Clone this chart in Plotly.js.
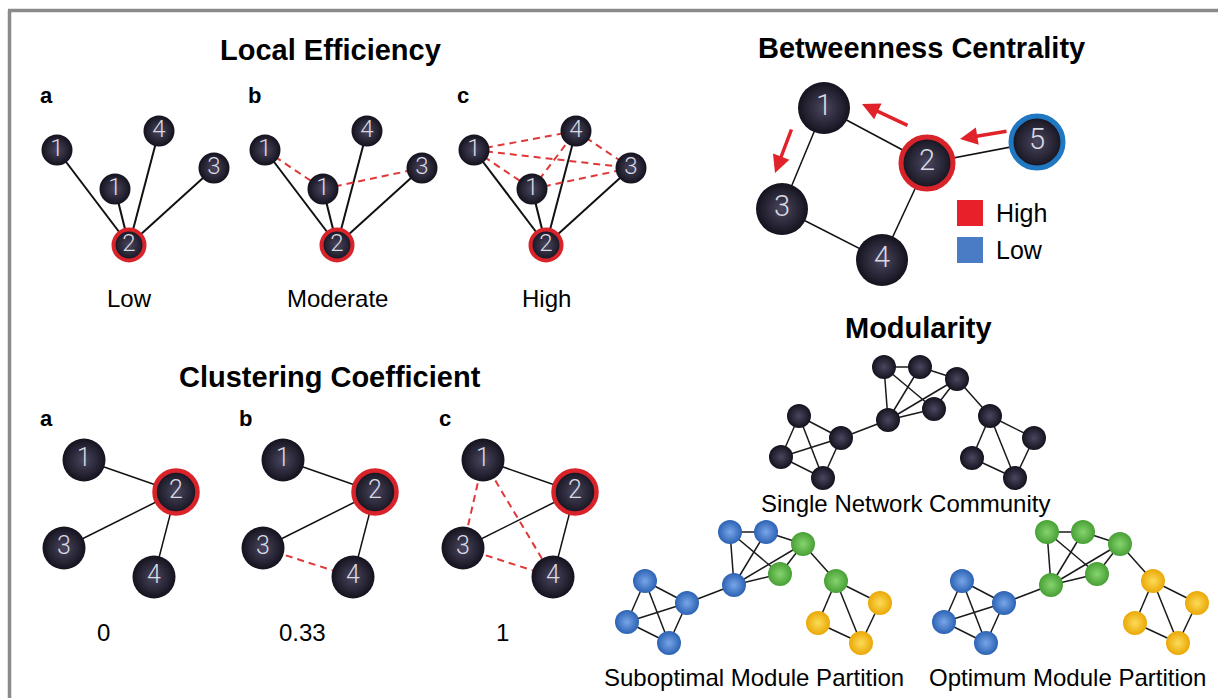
<!DOCTYPE html>
<html>
<head>
<meta charset="utf-8">
<script src="https://cdn.plot.ly/plotly-3.0.1.min.js"></script>
<style>
  html, body { margin: 0; padding: 0; background: #ffffff; }
  #chart { width: 1218px; height: 698px; }
</style>
</head>
<body>
<div id="chart"></div>
<script>
// ---------- Local Efficiency (three panels, same node layout shifted right) ----------
const leLabels   = ['1', '1', '4', '3', '2'];
const leX        = [57, 115, 159, 214, 129];
const leY        = [150, 189, 131, 168, 245];
const leHub      = 4;
const leShift    = [0, 208, 417];
const leSolid    = [[0, 4], [1, 4], [2, 4], [3, 4]];
const leDashed   = [
  [],
  [[0, 1], [1, 3]],
  [[0, 1], [0, 2], [0, 3], [1, 2], [1, 3], [2, 3]]
];
const leTags     = ['a', 'b', 'c'];
const leCaptions = ['Low', 'Moderate', 'High'];

// ---------- Clustering Coefficient ----------
const ccLabels   = ['1', '2', '3', '4'];
const ccX        = [84, 176, 64, 154];
const ccY        = [460, 492, 548, 577];
const ccHub      = 1;
const ccShift    = [0, 199, 399];
const ccSolid    = [[0, 1], [2, 1], [3, 1]];
const ccDashed   = [
  [],
  [[2, 3]],
  [[0, 2], [0, 3], [2, 3]]
];
const ccTags     = ['a', 'b', 'c'];
const ccCaptions = ['0', '0.33', '1'];

// ---------- Betweenness Centrality ----------
const bcLabels = ['1', '2', '3', '4', '5'];
const bcX      = [824, 927, 782, 882, 1037];
const bcY      = [108, 163, 209, 260, 142];
const bcRing   = ['none', 'high', 'none', 'none', 'low'];
const bcEdges  = [[0, 1], [0, 2], [2, 3], [3, 1], [1, 4]];
// shortest-path flow arrows: [tailX, tailY, headX, headY]
const bcArrows = [
  [909, 126, 862, 104],
  [1008, 131, 960, 139],
  [792, 128, 775, 173]
];
const bcLegend = ['High', 'Low'];

// ---------- Modularity (one 13-node network drawn three times) ----------
const modDx    = [0, 36, 73, 50, 4, -85, -43, -103, -61, 106, 150, 88, 131];
const modDy    = [0, 0, 12, 42, 53, 49, 71, 90, 111, 49, 71, 91, 111];
const modEdges = [
  [0, 1], [1, 2], [0, 4], [0, 3], [1, 4], [2, 4], [2, 3], [4, 3],
  [5, 6], [5, 7], [5, 8], [7, 6], [7, 8], [6, 8],
  [6, 4],
  [9, 10], [9, 11], [9, 12], [10, 12], [11, 12],
  [2, 9]
];
const modAnchorX  = [884, 730, 1047];
const modAnchorY  = [367, 532, 532];
const modSingle   = ['k', 'k', 'k', 'k', 'k', 'k', 'k', 'k', 'k', 'k', 'k', 'k', 'k'];
const modSubopt   = ['b', 'b', 'g', 'g', 'b', 'b', 'b', 'b', 'b', 'g', 'y', 'y', 'y'];
const modOptimum  = ['g', 'g', 'g', 'g', 'g', 'b', 'b', 'b', 'b', 'y', 'y', 'y', 'y'];
const modCaptions = ['Single Network Community', 'Suboptimal Module Partition', 'Optimum Module Partition'];
const modCaptionX = [905, 754, 1067];
const modCaptionY = [503, 677, 677];

// ---------- styling ----------
const FONT = 'Liberation Sans, Arial, Helvetica, sans-serif';
const DIGIT_FONT = 'Roboto, Open Sans, DejaVu Sans, sans-serif';
const SPHERE = {
  k: { edge: '#15121e', core: '#4a4760' },
  b: { edge: '#2c62b4', core: '#78a6e8' },
  g: { edge: '#47a035', core: '#86d46e' },
  y: { edge: '#eaa806', core: '#fcdb58' }
};
const RED_RING = '#d8232a';
const BLUE_RING = '#1f78c1';
const DASH_RED = '#e03838';

const traces = [];
const annotations = [];

function edgeTrace(xs, ys, pairs, dx, line) {
  const x = [], y = [];
  pairs.forEach(([a, b]) => {
    x.push(xs[a] + dx, xs[b] + dx, null);
    y.push(ys[a], ys[b], null);
  });
  return { type: 'scatter', mode: 'lines', x, y, line, hoverinfo: 'skip' };
}

function nodeTrace(x, y, labels, size, ringColors, ringWidths, fontSize, colorKeys) {
  const keys = colorKeys || x.map(() => 'k');
  return {
    type: 'scatter',
    mode: labels ? 'markers+text' : 'markers',
    x, y,
    text: labels || undefined,
    textposition: 'middle center',
    textfont: { family: DIGIT_FONT, size: fontSize || 24, color: '#d9d9e2', weight: 300 },
    marker: {
      size,
      color: keys.map(k => SPHERE[k].edge),
      gradient: { type: 'radial', color: keys.map(k => SPHERE[k].core) },
      line: { color: ringColors, width: ringWidths }
    },
    hoverinfo: 'skip'
  };
}

function label(text, x, y, size, bold, anchor) {
  annotations.push({
    text, x, y, xref: 'x', yref: 'y',
    xanchor: anchor || 'center', yanchor: 'middle', showarrow: false,
    font: { family: FONT, size, color: '#000000', weight: bold ? 'bold' : 'normal' }
  });
}

// Local Efficiency panels
leShift.forEach((dx, p) => {
  traces.push(edgeTrace(leX, leY, leSolid, dx, { color: '#111111', width: 2 }));
  traces.push(edgeTrace(leX, leY, leDashed[p], dx, { color: DASH_RED, width: 2, dash: '7px,5px' }));
  traces.push(nodeTrace(
    leX.map(v => v + dx), leY, leLabels, 31,
    leX.map((_, i) => i === leHub ? RED_RING : 'rgba(0,0,0,0)'),
    leX.map((_, i) => i === leHub ? 4 : 0),
    24
  ));
  label(leTags[p], 46 + dx, 95, 22, true);
  label(leCaptions[p], leX[leHub] + dx, 298, 24, false);
});
label('Local Efficiency', 330, 50, 29, true);

// Clustering Coefficient panels
ccShift.forEach((dx, p) => {
  traces.push(edgeTrace(ccX, ccY, ccSolid, dx, { color: '#111111', width: 1.5 }));
  traces.push(edgeTrace(ccX, ccY, ccDashed[p], dx, { color: DASH_RED, width: 2, dash: '7px,5px' }));
  traces.push(nodeTrace(
    ccX.map(v => v + dx), ccY, ccLabels, 43,
    ccX.map((_, i) => i === ccHub ? RED_RING : 'rgba(0,0,0,0)'),
    ccX.map((_, i) => i === ccHub ? 4.5 : 0),
    25
  ));
  label(ccTags[p], 46 + dx, 418, 22, true);
  label(ccCaptions[p], 103 + dx, 632, 24, false);
});
label('Clustering Coefficient', 330, 377, 29, true);

// Betweenness Centrality
traces.push(edgeTrace(bcX, bcY, bcEdges, 0, { color: '#111111', width: 1.5 }));
traces.push(nodeTrace(
  bcX, bcY, bcLabels, 52,
  bcRing.map(r => r === 'high' ? RED_RING : r === 'low' ? BLUE_RING : 'rgba(0,0,0,0)'),
  bcRing.map(r => r === 'none' ? 0 : 5),
  29
));
bcArrows.forEach(([tx, ty, hx, hy]) => {
  annotations.push({
    x: hx, y: hy, ax: tx, ay: ty, xref: 'x', yref: 'y', axref: 'x', ayref: 'y',
    text: '', showarrow: true, arrowhead: 2, arrowsize: 1, arrowwidth: 3.5,
    arrowcolor: '#e0232a', standoff: 0, startstandoff: 0
  });
});
traces.push({
  type: 'scatter', mode: 'markers',
  x: [970, 970], y: [213, 250],
  marker: { symbol: 'square', size: 26, color: ['#e8202a', '#4a7cc6'] },
  hoverinfo: 'skip'
});
label(bcLegend[0], 994, 213, 25, false, 'left');
label(bcLegend[1], 994, 250, 25, false, 'left');
label('Betweenness Centrality', 921, 48, 29, true);

// Modularity networks
[modSingle, modSubopt, modOptimum].forEach((keys, n) => {
  const xs = modDx.map(v => v + modAnchorX[n]);
  const ys = modDy.map(v => v + modAnchorY[n]);
  traces.push(edgeTrace(xs, ys, modEdges, 0, { color: '#1a1a1a', width: 1.5 }));
  traces.push(nodeTrace(xs, ys, null, 24, 'rgba(0,0,0,0)', 0, 0, keys));
  label(modCaptions[n], modCaptionX[n], modCaptionY[n], 24, false);
});
label('Modularity', 918, 328, 29, true);

const layout = {
  width: 1218, height: 698,
  margin: { l: 0, r: 0, t: 0, b: 0 },
  paper_bgcolor: '#ffffff', plot_bgcolor: '#ffffff',
  showlegend: false, hovermode: false,
  xaxis: { range: [0, 1218], visible: false, fixedrange: true },
  yaxis: { range: [698, 0], visible: false, fixedrange: true },
  annotations,
  shapes: [
    { type: 'line', xref: 'x', yref: 'y', x0: 9.5, y0: 698, x1: 9.5, y1: 10.5,
      line: { color: '#8a8a8a', width: 3.5 } },
    { type: 'line', xref: 'x', yref: 'y', x0: 8, y0: 10.5, x1: 1218, y1: 10.5,
      line: { color: '#8a8a8a', width: 3.5 } }
  ]
};

Plotly.newPlot('chart', traces, layout, { staticPlot: true, displayModeBar: false });
</script>
</body>
</html>
